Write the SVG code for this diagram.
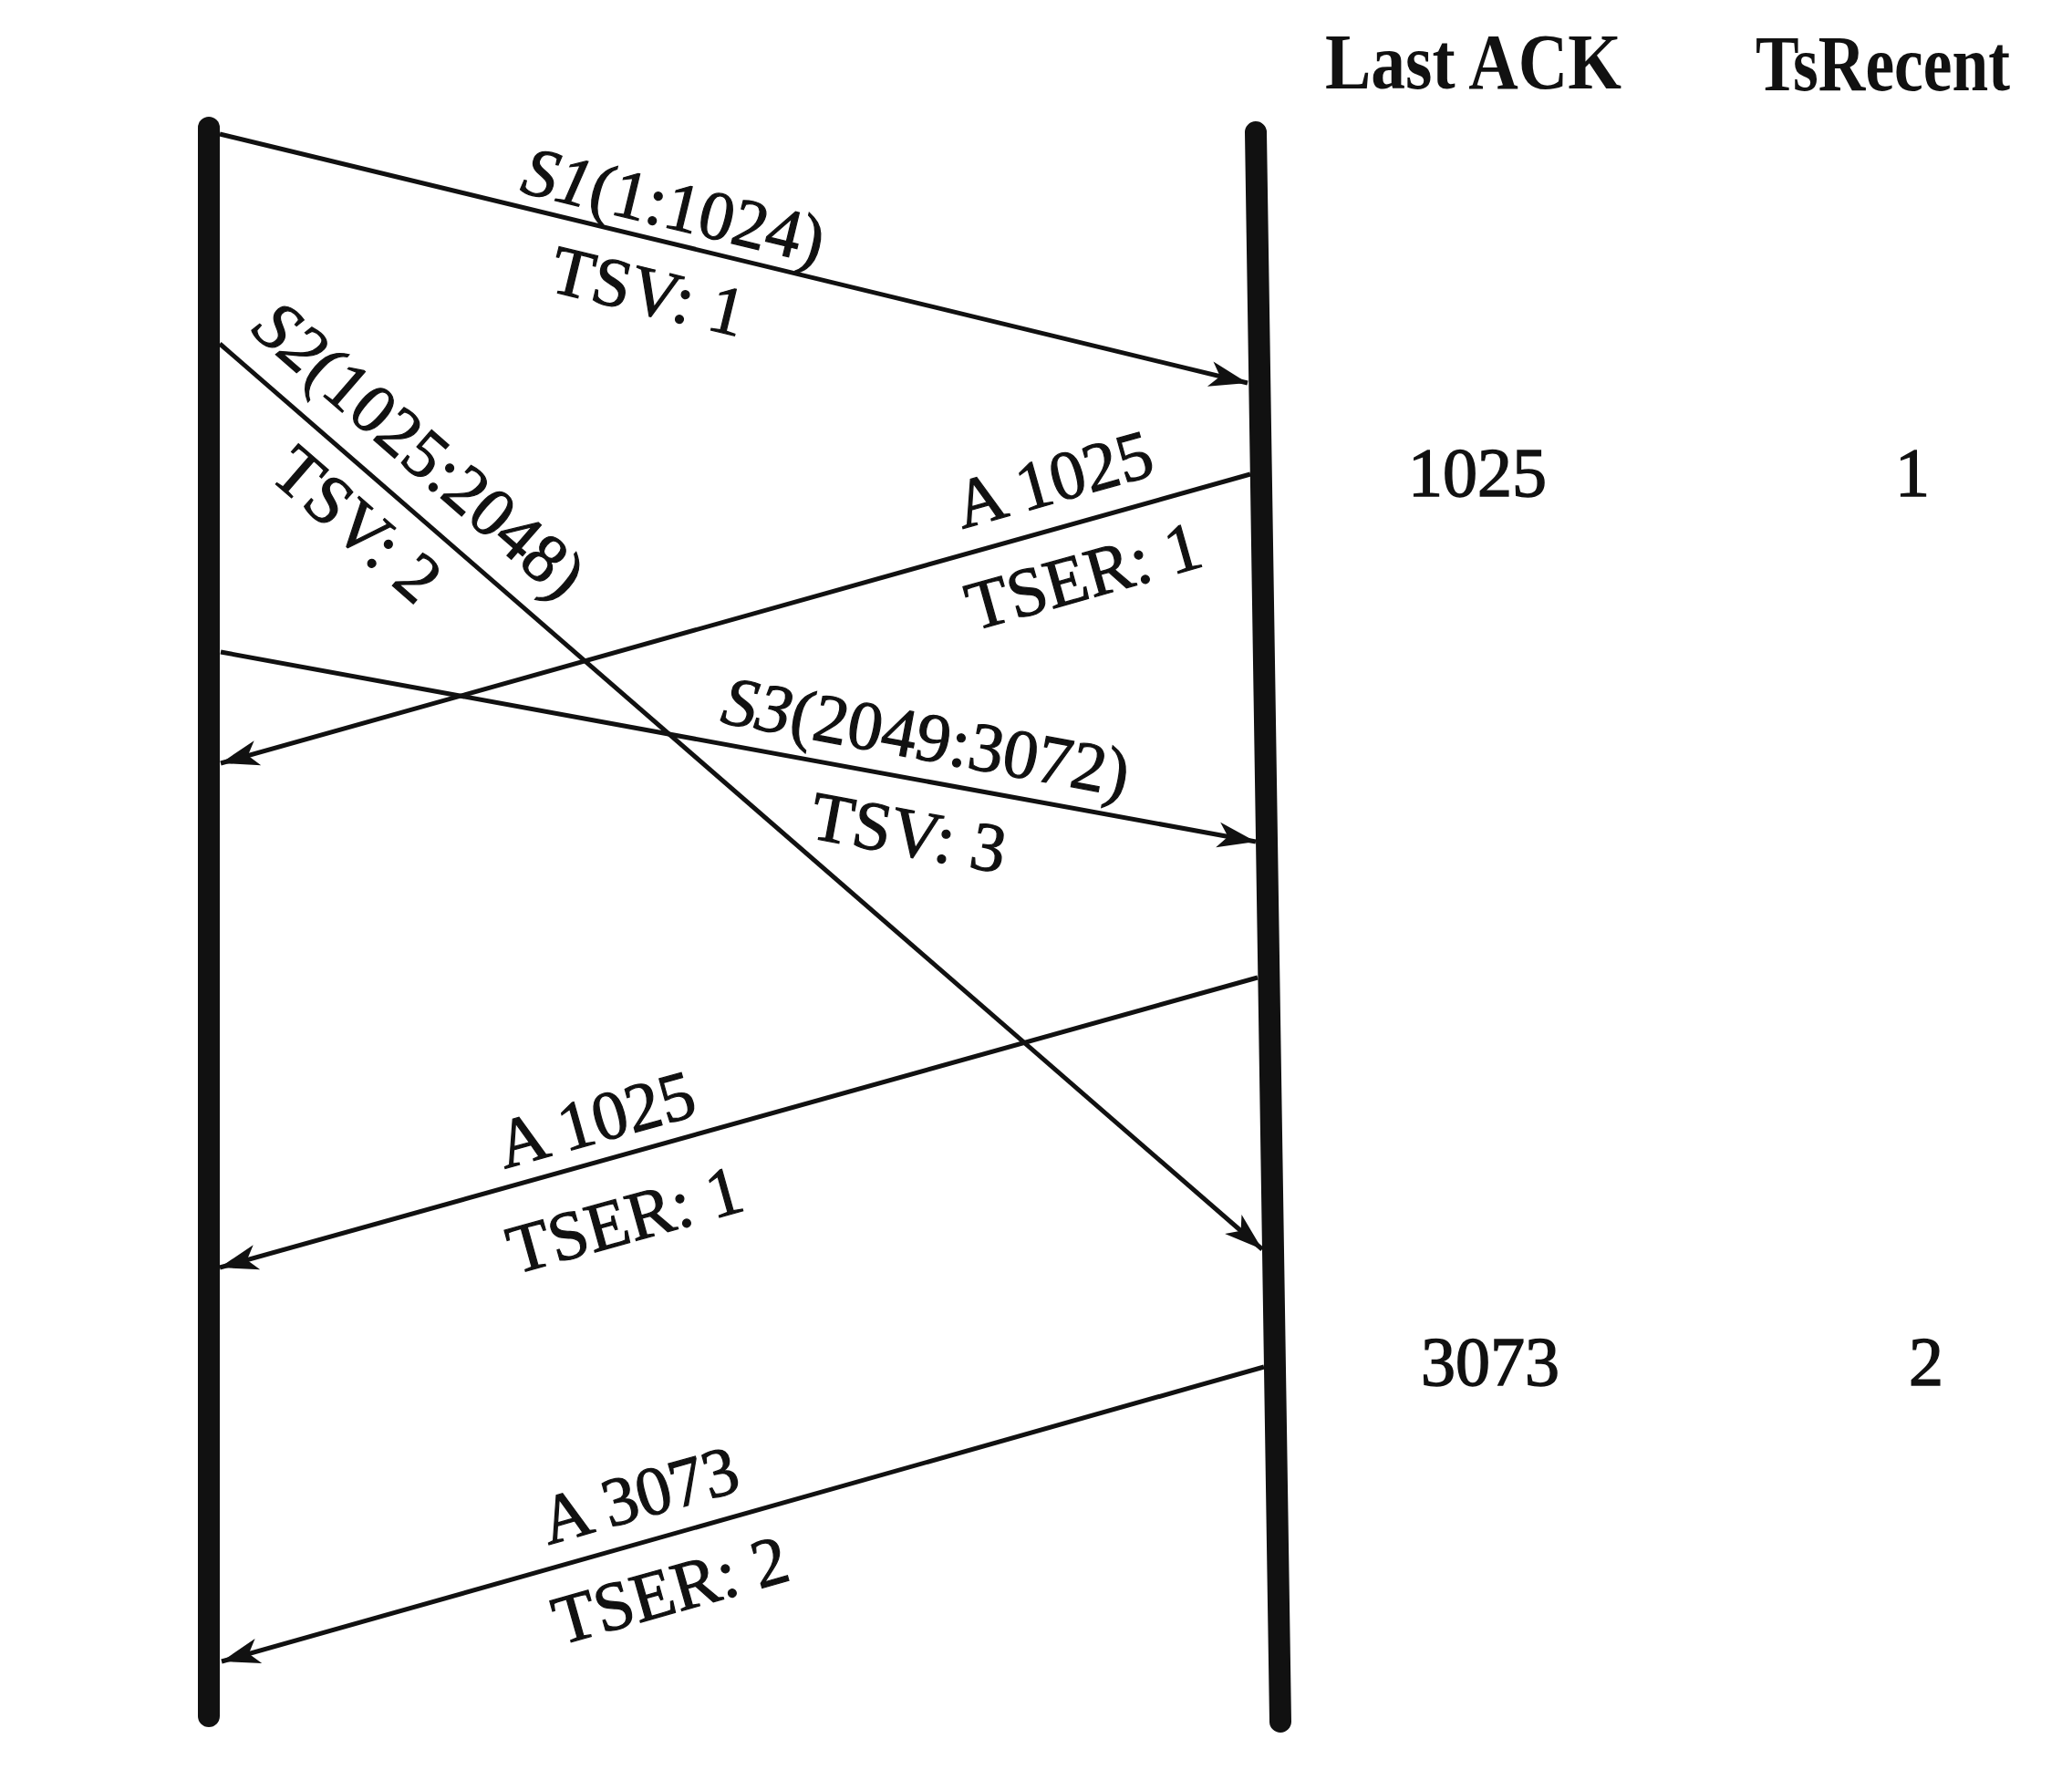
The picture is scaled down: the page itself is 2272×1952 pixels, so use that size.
<svg xmlns="http://www.w3.org/2000/svg" width="2272" height="1952" viewBox="0 0 2272 1952">
  <style>
    .life { stroke: #111; stroke-width: 24; stroke-linecap: round; fill: none; }
    .msg { stroke: #111; stroke-width: 5; fill: none; marker-end: url(#arrow); }
    .lbl { font-family: "Liberation Serif", "Times New Roman", serif; font-size: 76px; fill: #111; stroke: #111; stroke-width: 1.2; text-anchor: middle; }
    .hdr { font-family: "Liberation Serif", "Times New Roman", serif; font-size: 86px; font-weight: bold; fill: #111; }
    .val { font-family: "Liberation Serif", "Times New Roman", serif; font-size: 76px; fill: #111; stroke: #111; stroke-width: 1.5; text-anchor: middle; }
    .it { font-style: italic; }
  </style>
  <defs>
    <marker id="arrow" markerUnits="userSpaceOnUse" markerWidth="50" markerHeight="40" viewBox="-45 -20 50 40" refX="0" refY="0" orient="auto">
      <path d="M0,0 L-42,-14 L-31,0 L-42,14 Z" fill="#111"/>
    </marker>
  </defs>
  <rect width="2272" height="1952" fill="#ffffff"/>

  <g id="sender">
    <line class="life" x1="229" y1="140" x2="229" y2="1882"/>
  </g>
  <g id="receiver">
    <line class="life" x1="1377" y1="145" x2="1404" y2="1888"/>
  </g>

  <g id="headers">
    <text class="hdr" x="1453" y="97" textLength="325" lengthAdjust="spacingAndGlyphs">Last ACK</text>
    <text class="hdr" x="1925" y="99" textLength="279" lengthAdjust="spacingAndGlyphs">TsRecent</text>
  </g>

  <g id="state1">
    <text class="val" x="1620" y="544">1025</text>
    <text class="val" x="2097" y="544">1</text>
  </g>
  <g id="state2">
    <text class="val" x="1634" y="1519">3073</text>
    <text class="val" x="2112" y="1519">2</text>
  </g>

  <g id="connectors">
    <line id="s1" class="msg" x1="241" y1="147" x2="1368" y2="420"/>
    <line id="s2" class="msg" x1="241" y1="377" x2="1384" y2="1370"/>
    <line id="a1" class="msg" x1="1371" y1="520" x2="242" y2="837"/>
    <line id="s3" class="msg" x1="242" y1="715" x2="1377" y2="923"/>
    <line id="a2" class="msg" x1="1379" y1="1072" x2="241" y2="1390"/>
    <line id="a3" class="msg" x1="1386" y1="1499" x2="243" y2="1822"/>
  </g>

  <g id="labels">
    <text class="lbl" transform="translate(733,250) rotate(13.6)"><tspan class="it">S1</tspan>(1:1024)</text>
    <text class="lbl" transform="translate(705,344) rotate(13.6)">TSV: 1</text>

    <text class="lbl" transform="translate(444,512) rotate(41)"><tspan class="it">S2</tspan>(1025:2048)</text>
    <text class="lbl" transform="translate(375,594) rotate(41)">TSV: 2</text>

    <text class="lbl" transform="translate(1162,550) rotate(-15.7)">A 1025</text>
    <text class="lbl" transform="translate(1195,656) rotate(-15.7)">TSER: 1</text>

    <text class="lbl" transform="translate(1011,833) rotate(10.4)"><tspan class="it">S3</tspan>(2049:3072)</text>
    <text class="lbl" transform="translate(992,938) rotate(10.4)">TSV: 3</text>

    <text class="lbl" transform="translate(660,1252) rotate(-15.6)">A 1025</text>
    <text class="lbl" transform="translate(692,1362) rotate(-15.6)">TSER: 1</text>

    <text class="lbl" transform="translate(708,1664) rotate(-15.8)">A 3073</text>
    <text class="lbl" transform="translate(742,1768) rotate(-15.8)">TSER: 2</text>
  </g>
</svg>
